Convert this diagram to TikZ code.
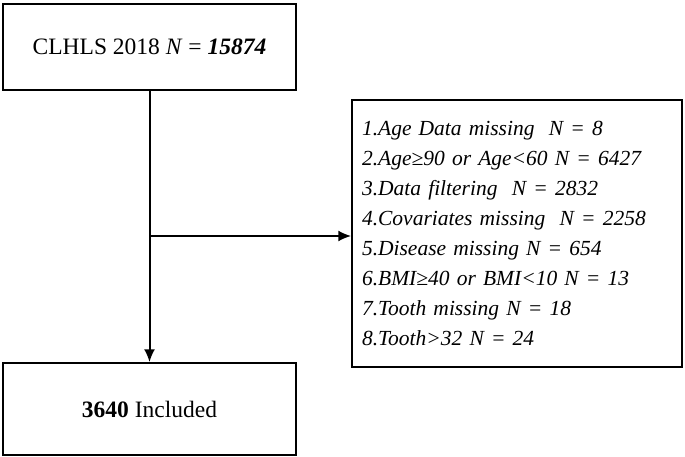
\documentclass[tikz,border=0pt]{standalone}
\usepackage{fontspec}
\setmainfont{Liberation Serif}
\usetikzlibrary{positioning,arrows.meta}
\begin{document}
\begin{tikzpicture}[x=1pt,y=-1pt,
    box/.style={draw,line width=1.5pt,inner sep=0pt,font=\fontsize{23.5}{30}\selectfont},
    arr/.style={line width=2pt,-{Latex[length=13,width=11]}}]
    \useasboundingbox (0,0) rectangle (685,457);
    \node[box,minimum width=293,minimum height=86] (top) at (149.5,47) {CLHLS 2018 \textit{N} = \textbf{\textit{15874}}};
    \node[box,minimum width=293,minimum height=92] (bot) at (149.5,409) {\textbf{3640} Included};
    \node[box,minimum width=330,minimum height=267,align=left,text width=310,font=\fontsize{21.5}{30}\selectfont\itshape] (excl) at (517,233.5)
      {1.Age Data missing~ N = 8\\
       2.Age≥90 or Age<60 N = 6427\\
       3.Data filtering~ N = 2832\\
       4.Covariates missing~ N = 2258\\
       5.Disease missing N = 654\\
       6.BMI≥40 or BMI<10 N = 13\\
       7.Tooth missing N = 18\\
       8.Tooth>32 N = 24};
    \coordinate (split) at (149,236);
    \draw[arr] (top) -- (bot);
    \draw[arr] (split) -- (split -| excl.west);
\end{tikzpicture}
\end{document}
